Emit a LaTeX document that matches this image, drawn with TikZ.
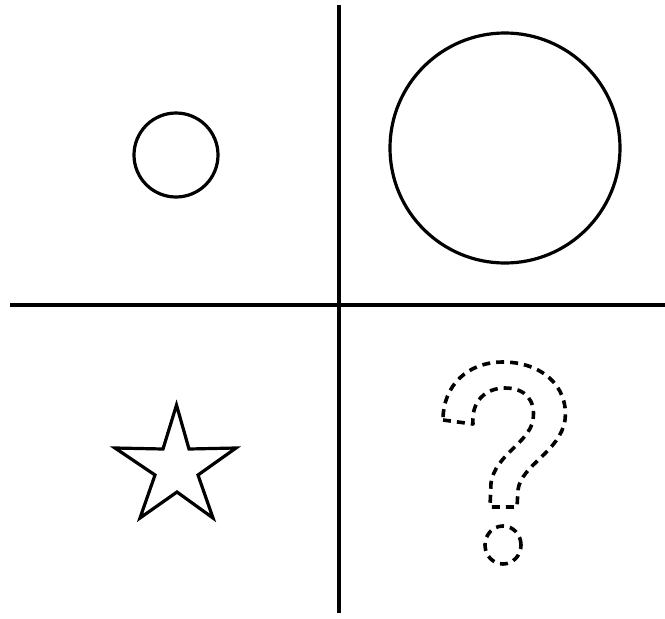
\documentclass[tikz,border=0pt]{standalone}
\usetikzlibrary{shapes.geometric}
\begin{document}
\begin{tikzpicture}[x=1pt,y=-1pt,
  shape line/.style={line width=3.2pt, line join=miter},
  dashed shape/.style={line width=3.6pt, dash pattern=on 8pt off 6pt, line join=round},
  divider/.style={line width=3.2pt}]
\useasboundingbox (0,0) rectangle (665,619);
% dividers
\coordinate (vtop) at (339,5);
\coordinate (vbot) at (339,613);
\coordinate (hleft) at (10,305);
\coordinate (hright) at (665,305);
\draw[divider] (vtop) -- (vbot);
\draw[divider] (hleft) -- (hright);
% circles
\node[draw, shape line, circle, minimum size=84pt, inner sep=0pt] (small) at (176,155) {};
\node[draw, shape line, circle, minimum size=230pt, inner sep=0pt] (big) at (505,148) {};
% star
\draw[shape line] (176.5,405) -- (189,449) -- (236,448) -- (198,475) -- (213,518)
  -- (177,492) -- (140,518) -- (155,475) -- (115,448) -- (163,449) -- cycle;
% question mark
\draw[dashed shape] (443,420) -- (473,424)
  .. controls (471,402) and (485,388) .. (505,388)
  .. controls (525,388) and (536,400) .. (533,420)
  .. controls (529,443) and (495,455) .. (491,483)
  -- (490,507) -- (517,507) -- (518,490)
  .. controls (521,465) and (560,452) .. (565,420)
  .. controls (569,385) and (540,362) .. (503,362)
  .. controls (468,362) and (443,385) .. (443,420) -- cycle;
\node[draw, dashed shape, ellipse, minimum width=36pt, minimum height=38pt, inner sep=0pt] (dot) at (503,545) {};
\end{tikzpicture}
\end{document}
